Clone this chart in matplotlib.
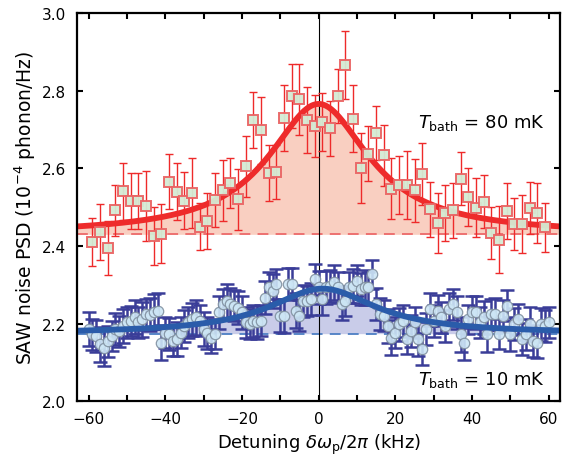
import numpy as np
import matplotlib
matplotlib.use("Agg")
import matplotlib.pyplot as plt

# ---------------- data ----------------
red_x = list(range(-59, 60, 2))
red_y = [2.410, 2.436, 2.395, 2.492, 2.541, 2.517, 2.516, 2.503, 2.425, 2.432,
         2.566, 2.540, 2.517, 2.536, 2.450, 2.464, 2.518, 2.543, 2.563, 2.520,
         2.605, 2.724, 2.698, 2.587, 2.590, 2.730, 2.787, 2.778, 2.724, 2.709,
         2.720, 2.703, 2.787, 2.866, 2.728, 2.601, 2.638, 2.691, 2.634, 2.548,
         2.557, 2.557, 2.544, 2.586, 2.494, 2.459, 2.484, 2.492, 2.573, 2.527,
         2.498, 2.514, 2.434, 2.416, 2.490, 2.457, 2.457, 2.498, 2.485, 2.448]
red_err = [0.061, 0.072, 0.070, 0.066, 0.073, 0.072, 0.072, 0.090, 0.075, 0.075,
           0.071, 0.074, 0.074, 0.090, 0.060, 0.073, 0.070, 0.078, 0.064, 0.078,
           0.078, 0.072, 0.087, 0.072, 0.069, 0.085, 0.083, 0.091, 0.085, 0.079,
           0.074, 0.071, 0.070, 0.087, 0.087, 0.091, 0.070, 0.070, 0.079, 0.078,
           0.075, 0.088, 0.081, 0.080, 0.072, 0.077, 0.072, 0.071, 0.068, 0.075,
           0.076, 0.068, 0.067, 0.086, 0.072, 0.067, 0.074, 0.067, 0.078, 0.064]

blue_x = list(range(-60, 61, 1))
blue_y = [2.186, 2.173, 2.168, 2.147, 2.138, 2.154, 2.168, 2.186, 2.180, 2.194,
          2.203, 2.207, 2.217, 2.203, 2.211, 2.224, 2.223, 2.231, 2.233, 2.151,
          2.177, 2.173, 2.154, 2.160, 2.177, 2.194, 2.203, 2.211, 2.216, 2.207,
          2.186, 2.175, 2.164, 2.173, 2.229, 2.250, 2.259, 2.250, 2.246, 2.241,
          2.229, 2.203, 2.198, 2.207, 2.203, 2.207, 2.267, 2.293, 2.284, 2.302,
          2.220, 2.220, 2.303, 2.302, 2.233, 2.220, 2.259, 2.259, 2.263, 2.314,
          2.293,
          2.263, 2.293, 2.297, 2.306, 2.293, 2.250, 2.259, 2.293, 2.297, 2.310,
          2.289, 2.293, 2.293, 2.327, 2.250, 2.224, 2.220, 2.194, 2.164, 2.177,
          2.198, 2.207, 2.160, 2.181, 2.203, 2.160, 2.134, 2.186, 2.237, 2.207,
          2.233, 2.216, 2.194, 2.237, 2.250, 2.229, 2.173, 2.151, 2.211, 2.229,
          2.229, 2.203, 2.216, 2.173, 2.224, 2.224, 2.173, 2.220, 2.246, 2.173,
          2.198, 2.211, 2.160, 2.173, 2.198, 2.156, 2.151, 2.198, 2.194, 2.203]
blue_err = [0.045, 0.040, 0.042, 0.045, 0.048, 0.040, 0.038, 0.042, 0.040, 0.044,
            0.041, 0.039, 0.043, 0.040, 0.045, 0.040, 0.042, 0.044, 0.046, 0.045,
            0.040, 0.042, 0.038, 0.043, 0.040, 0.041, 0.039, 0.042, 0.045, 0.040,
            0.043, 0.041, 0.040, 0.038, 0.042, 0.040, 0.044, 0.041, 0.040, 0.043,
            0.042, 0.040, 0.039, 0.041, 0.043, 0.040, 0.042, 0.040, 0.044, 0.038,
            0.041, 0.043, 0.040, 0.042, 0.045, 0.040, 0.041, 0.039, 0.042, 0.040,
            0.043, 0.040, 0.042, 0.041, 0.044, 0.040, 0.042, 0.039, 0.041, 0.043,
            0.040, 0.042, 0.044, 0.040, 0.038, 0.042, 0.041, 0.040, 0.043, 0.045,
            0.040, 0.042, 0.041, 0.039, 0.042, 0.040, 0.044, 0.041, 0.040, 0.043,
            0.042, 0.040, 0.039, 0.041, 0.043, 0.040, 0.042, 0.045, 0.044, 0.038,
            0.041, 0.043, 0.040, 0.042, 0.045, 0.040, 0.041, 0.039, 0.042, 0.040,
            0.043, 0.041, 0.040, 0.042, 0.040, 0.044, 0.041, 0.040, 0.042, 0.041, 0.040]

# Lorentzian fit parameters: baseline, amplitude, centre (kHz), HWHM (kHz)
red_fit = dict(base=2.430, amp=0.336, x0=0.0, hwhm=16.0)
blue_fit = dict(base=2.174, amp=0.116, x0=1.0, hwhm=17.0)

xlim = (-63, 63)
ylim = (2.0, 3.0)
xticks = [-60, -40, -20, 0, 20, 40, 60]
yticks = [2.0, 2.2, 2.4, 2.6, 2.8, 3.0]


def lorentz(x, base, amp, x0, hwhm):
    return base + amp / (1 + ((x - x0) / hwhm) ** 2)


plt.rcParams['font.family'] = ['DejaVu Sans']
plt.rcParams['mathtext.fontset'] = 'dejavusans'

fig = plt.figure(figsize=(5.63, 4.56), dpi=100)
ax = fig.add_axes([0.137, 0.118, 0.858, 0.851])

xf = np.linspace(xlim[0], xlim[1], 600)

for fit, fill_c, line_c, dash_c in [
        (red_fit, '#f9cfc1', '#ee2b2b', '#ec6a6a'),
        (blue_fit, '#c9cce9', '#2a5caa', '#4d7fc4')]:
    yf = lorentz(xf, **fit)
    ax.fill_between(xf, fit['base'], yf, color=fill_c, lw=0, zorder=1)
    ax.axhline(fit['base'], color=dash_c, lw=1.3, ls=(0, (6, 4)), zorder=2)

ax.axvline(0, color='black', lw=0.8, zorder=2.5)

# red points
ax.errorbar(red_x, red_y, yerr=red_err, fmt='none', ecolor='#ee2a2a',
            elinewidth=1.0, capsize=3.2, capthick=1.0, zorder=3)
ax.plot(xf, lorentz(xf, **red_fit), color='#ee2b2b', lw=4.2, zorder=3.5,
        solid_capstyle='butt')
ax.plot(red_x, red_y, 's', ms=7.3, mfc='#d4ebd4', mec='#ea6464', mew=1.4,
        alpha=0.95, zorder=4)

# blue points
ax.errorbar(blue_x, blue_y, yerr=blue_err, fmt='none', ecolor='#3a3d98',
            elinewidth=1.8, capsize=4.8, capthick=1.8, zorder=3)
ax.plot(blue_x, blue_y, 'o', ms=7.5, mfc='#cde6f5', mec='#8090a0', mew=0.9,
        alpha=0.9, zorder=4)
ax.plot(xf, lorentz(xf, **blue_fit), color='#2a5caa', lw=4.2, zorder=4.5,
        solid_capstyle='butt')

ax.text(59.0, 2.706, r'$T_{\rm bath}$ = 80 mK', ha='right', va='baseline',
        fontsize=13, zorder=6)
ax.text(59.0, 2.044, r'$T_{\rm bath}$ = 10 mK', ha='right', va='baseline',
        fontsize=13, zorder=6)

ax.set_xlim(*xlim)
ax.set_ylim(*ylim)
ax.set_xticks(xticks)
ax.set_xticklabels([('\u2212%d' % -t) if t < 0 else '%d' % t for t in xticks])
ax.set_xticks(np.arange(-60, 61, 10), minor=True)
ax.set_yticks(yticks)
ax.set_yticklabels(['%.1f' % t for t in yticks])

ax.tick_params(which='both', direction='in', top=True, right=True,
               labelsize=11, width=1.5, color='black')
ax.tick_params(axis='x', pad=7)
ax.tick_params(axis='y', pad=8)
ax.tick_params(which='major', length=4.5)
ax.tick_params(which='minor', length=4.5)
for s in ax.spines.values():
    s.set_linewidth(1.6)
    s.set_zorder(10)

ax.set_xlabel(r'Detuning $\delta\omega_{\rm p}/2\pi$ (kHz)', fontsize=13,
              labelpad=4)
ax.set_ylabel(r'SAW noise PSD ($10^{-4}$ phonon/Hz)', fontsize=13.5,
              labelpad=3)

fig.savefig('out.png', dpi=100)
